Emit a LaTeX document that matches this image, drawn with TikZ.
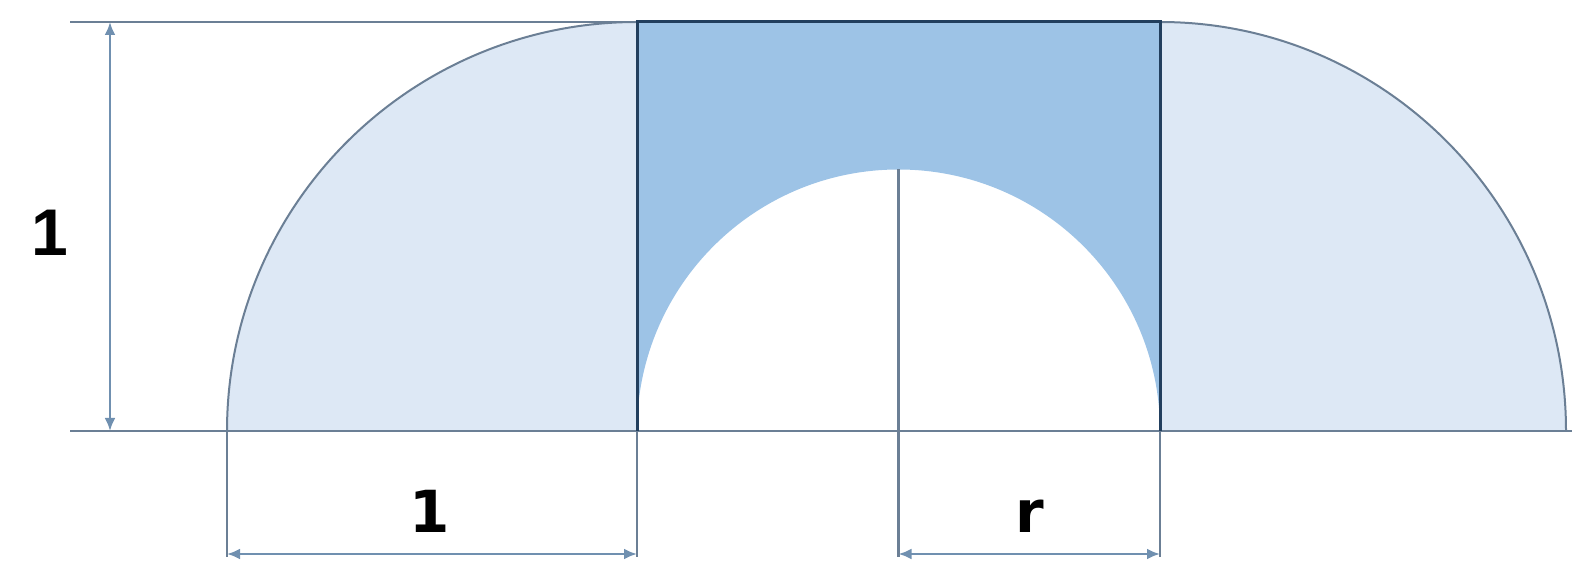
\documentclass[tikz,border=0pt]{standalone}
\usepackage{fontspec}
\usetikzlibrary{arrows.meta}
\newfontfamily\dimfont{DejaVu Sans}
\newfontfamily\sidefont{Liberation Sans}
\definecolor{lightfill}{HTML}{DDE8F5}
\definecolor{midfill}{HTML}{9DC3E6}
\definecolor{lineclr}{HTML}{6B7F95}
\definecolor{darkedge}{HTML}{223F5E}
\definecolor{arrowclr}{HTML}{7090B0}
\tikzset{
  guide/.style={draw=lineclr, line width=2.4pt},
  dimline/.style={draw=arrowclr, line width=2.4pt, {Latex[length=13pt,width=11pt]}-{Latex[length=13pt,width=11pt]}},
  edge/.style={draw=darkedge, line width=3pt},
  bottomlabel/.style={font=\dimfont\bfseries\fontsize{58}{70}\selectfont, anchor=base, inner sep=0pt},
  sidelabel/.style={font=\sidefont\bfseries\fontsize{66}{80}\selectfont, anchor=base, inner sep=0pt}
}
\begin{document}
\begin{tikzpicture}[x=1pt,y=1pt]
\useasboundingbox (0,0) rectangle (1572,567);
% key points
\coordinate (LB) at (227,136);
\coordinate (RL) at (637,136);
\coordinate (RLT) at (637,545);
\coordinate (RRT) at (1160,545);
\coordinate (RR) at (1160,136);
\coordinate (CT) at (898.5,397.5);
% left quarter ellipse
\fill[lightfill] (LB) arc[start angle=180,end angle=90,x radius=410,y radius=409] -- (RL) -- cycle;
% right quarter ellipse
\fill[lightfill] (RRT) arc[start angle=90,end angle=0,x radius=406,y radius=409] -- (RR) -- cycle;
% middle shape
\fill[midfill] (RL) -- (RLT) -- (RRT) -- (RR) arc[start angle=0,end angle=180,radius=261.5] -- cycle;
% outer arcs
\draw[guide, line width=2pt] (LB) arc[start angle=180,end angle=90,x radius=410,y radius=409];
\draw[guide, line width=2pt] (RRT) arc[start angle=90,end angle=0,x radius=406,y radius=409];
% reference lines
\coordinate (TL) at (70,545);
\coordinate (BL) at (70,136);
\coordinate (BR) at (1572,136);
\draw[guide] (TL) -- (RLT);
\draw[guide] (BL) -- (BR);
% extension lines
\coordinate (E1) at (227,10);
\coordinate (E2) at (637,10);
\coordinate (E3) at (898.5,10);
\coordinate (E4) at (1160,10);
\draw[guide] (LB) -- (E1);
\draw[guide] (RL) -- (E2);
\draw[guide] (CT) -- (E3);
\draw[guide] (RR) -- (E4);
% rectangle edges
\draw[edge] (RL) -- (RLT) -- (RRT) -- (RR);
% dimension arrows
\coordinate (A1) at (227,13);
\coordinate (A2) at (637,13);
\coordinate (A3) at (898.5,13);
\coordinate (A4) at (1160,13);
\draw[dimline] (A1) -- (A2);
\draw[dimline] (A3) -- (A4);
\coordinate (V1) at (110,545);
\coordinate (V2) at (110,136);
\draw[dimline] (V1) -- (V2);
% labels
\node[bottomlabel] (one) at (430,34) {1};
\node[bottomlabel] (r) at (1030,34) {r};
\node[sidelabel] (oneside) at (50,311) {1};
\end{tikzpicture}
\end{document}
